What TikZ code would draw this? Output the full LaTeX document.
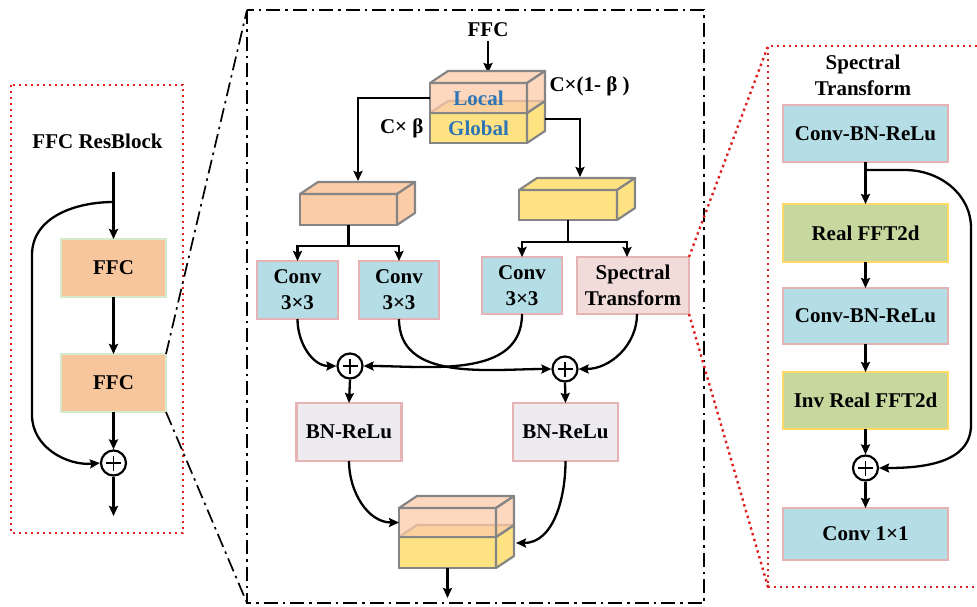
\documentclass[tikz,border=0pt]{standalone}
\usepackage{fontspec}
\setmainfont{Liberation Serif}
\usetikzlibrary{arrows.meta}

\definecolor{peach}{HTML}{F8C69C}
\definecolor{paleGreen}{HTML}{D6E9CC}
\definecolor{cubeOrange}{HTML}{FCCBA8}
\definecolor{cubeYellow}{HTML}{FFE382}
\definecolor{cubeEdge}{HTML}{858585}
\definecolor{convBlue}{HTML}{B5DDE6}
\definecolor{pinkEdge}{HTML}{E5B3B3}
\definecolor{stFill}{HTML}{F2DCDA}
\definecolor{bnFill}{HTML}{EDEAF0}
\definecolor{fftGreen}{HTML}{C6D89E}
\definecolor{fftEdge}{HTML}{FFD966}
\definecolor{labelBlue}{HTML}{2E75B6}
\definecolor{dotRed}{HTML}{E02020}

% front face node plus top and right faces of a box in oblique view
% #1 name, #2 x, #3 y (top-left of front), #4 width, #5 height, #6 colour, #7 fill opacity
\newcommand\drawcuboid[7]{%
  \node[cubeface, fill=#6, fill opacity=#7, minimum width=#4pt, minimum height=#5pt,
        anchor=north west] (#1) at (#2,#3) {};
  \filldraw[cubeline, fill=#6, fill opacity=#7]
    (#1.north west) -- ++(18,-12) -- ++(#4,0) -- (#1.north east) -- cycle;
  \filldraw[cubeline, fill=#6, fill opacity=#7]
    (#1.north east) -- ++(18,-12) -- ++(0,#5) -- (#1.south east) -- cycle;
}

\begin{document}
\begin{tikzpicture}[x=1pt,y=-1pt,
  txt/.style={font=\fontsize{21}{26}\selectfont\bfseries, text opacity=1},
  blk/.style={txt, draw, line width=2.2pt, inner sep=0pt, outer sep=0pt, align=center},
  ffcbox/.style={blk, fill=peach, draw=paleGreen, minimum width=105pt, minimum height=58pt},
  convbox/.style={blk, fill=convBlue, draw=pinkEdge},
  stbox/.style={blk, fill=stFill, draw=pinkEdge},
  bnbox/.style={blk, fill=bnFill, draw=pinkEdge, minimum width=105pt, minimum height=58pt},
  fftbox/.style={blk, fill=fftGreen, draw=fftEdge, minimum width=165pt},
  cubeface/.style={draw=cubeEdge, line width=2.2pt, inner sep=0pt, outer sep=0pt},
  cubeline/.style={draw=cubeEdge, line width=2.2pt, line join=round},
  wire/.style={line width=2.3pt},
  arr/.style={wire, -{Stealth[length=10pt, width=9pt, inset=1.5pt]}},
  adder/.style={circle, draw, line width=2.2pt, fill=white, minimum size=25pt, inner sep=0pt,
    path picture={\draw[line width=1.5pt]
      ([xshift=-7.5pt]path picture bounding box.center) -- ([xshift=7.5pt]path picture bounding box.center)
      ([yshift=-7.5pt]path picture bounding box.center) -- ([yshift=7.5pt]path picture bounding box.center);}},
  reddots/.style={dotRed, line width=2.4pt, dash pattern=on 2.4pt off 3.6pt},
  dashdot/.style={line width=2.2pt, dash pattern=on 14pt off 5pt on 2.5pt off 5pt},
]
\useasboundingbox (0,0) rectangle (977,606);

%% ---------------- FFC ResBlock ----------------
\draw[reddots] (11,85) rectangle (183,533);
\node[txt] (resTitle) at (97.5,141) {FFC ResBlock};
\node[ffcbox] (ffcA) at (113.5,268) {FFC};
\node[ffcbox] (ffcB) at (113.5,383) {FFC};
\node[adder] (addRes) at (113.5,463) {};
\coordinate (resIn) at (113.5,172);
\coordinate (resSplit) at (113.5,202);
\coordinate (resOut) at (113.5,516);
\draw[arr] (resIn) -- (ffcA.north);
\draw[arr] (ffcA.south) -- (ffcB.north);
\draw[arr] (ffcB.south) -- (addRes.north);
\draw[arr] (addRes.south) -- (resOut);
\draw[arr] (resSplit) to[out=180,in=90] (32,255) -- (32,415) to[out=-90,in=185] (addRes.west);

%% ---------------- FFC block (zoomed) ----------------
\coordinate (zoomTL) at (247,10);
\coordinate (zoomBL) at (247,603);
\draw[dashdot] (zoomTL) rectangle (704,603);
\draw[dashdot, line width=1.7pt] (ffcB.north east) -- (zoomTL);
\draw[dashdot, line width=1.7pt] (ffcB.south east) -- (zoomBL);

\node[txt] (ffcTitle) at (488,30) {FFC};
\coordinate (cubeIn) at (488,73);
\draw[arr] (ffcTitle.south) -- (cubeIn);

% input tensor split into local and global channels
\drawcuboid{glob}{430}{113}{97}{30}{cubeYellow}{1}
\drawcuboid{loc}{430}{83}{97}{30}{cubeOrange}{0.75}
\node[txt, text=labelBlue] (locText) at (loc.center) {Local};
\node[txt, text=labelBlue] (globText) at (glob.center) {Global};
\node[txt, anchor=west] (ratioL) at (546,86) {C×(1- β )};
\node[txt, anchor=east] (ratioG) at (427,128) {C× β};

% local and global branches
\drawcuboid{lcube}{300}{194}{97}{31}{cubeOrange}{1}
\drawcuboid{gcube}{519}{190}{98}{30}{cubeYellow}{1}
\coordinate (lcubeIn) at (358,181);
\coordinate (gcubeOut) at (545,119);
\coordinate (gcubeIn) at (580,177);
\draw[arr] (loc.west) -| (lcubeIn);
\draw[arr] (gcubeOut) -| (gcubeIn);

\node[convbox, minimum width=81pt, minimum height=58pt] (convA) at (297.5,290) {Conv\\3×3};
\node[convbox, minimum width=80pt, minimum height=58pt] (convB) at (399,290) {Conv\\3×3};
\node[convbox, minimum width=80pt, minimum height=57pt] (convC) at (522,285.5) {Conv\\3×3};
\node[stbox, minimum width=112pt, minimum height=57pt] (spec) at (633,285.5) {Spectral\\Transform};

\coordinate (lSplit) at (348.5,246);
\coordinate (gSplit) at (568,242);
\draw[wire] (lcube.south) -- (lSplit);
\draw[arr] (lSplit) -| (convA.north);
\draw[arr] (lSplit) -| (convB.north);
\draw[wire] (gcube.south) -- (gSplit);
\draw[arr] (gSplit) -| (convC.north);
\draw[arr] (gSplit) -| ([xshift=-6pt]spec.north);

\node[adder] (addL) at (350,366) {};
\node[adder] (addG) at (565,369) {};
\draw[arr] (convA.south) to[out=-90,in=180] (addL.west);
\draw[arr] (convC.south) to[out=-90,in=0] (addL.east);
\draw[arr] (convB.south) to[out=-90,in=180] (addG.west);
\draw[arr] ([xshift=4pt]spec.south) to[out=-90,in=0] (addG.east);

\node[bnbox] (bnL) at (349,432) {BN-ReLu};
\node[bnbox] (bnG) at (565.5,432) {BN-ReLu};
\draw[arr] (addL.south) -- (bnL.north);
\draw[arr] (addG.south) -- (bnG.north);

% output tensor
\drawcuboid{outG}{399}{537}{97}{31}{cubeYellow}{1}
\drawcuboid{outL}{399}{508}{97}{29}{cubeOrange}{0.75}
\coordinate (outGIn) at (516,543);
\coordinate (outEnd) at (447.5,598);
\draw[arr] (bnL.south) to[out=-90,in=180] (outL.west);
\draw[arr] (bnG.south) to[out=-90,in=0] (outGIn);
\draw[arr] (outG.south) -- (outEnd);

%% ---------------- Spectral Transform (zoomed) ----------------
\coordinate (stTL) at (768,46);
\coordinate (stBL) at (768,587);
\draw[reddots] (977,46) -- (stTL) -- (stBL) -- (977,587);
\draw[reddots] (spec.north east) -- (stTL);
\draw[reddots] (spec.south east) -- (stBL);

\node[txt, align=center] (stTitle) at (863,75.5) {Spectral\\Transform};
\node[convbox, minimum width=165pt, minimum height=57pt] (cbrA) at (865.5,133.5) {Conv-BN-ReLu};
\node[fftbox, minimum height=58pt] (fftA) at (865.5,233) {Real FFT2d};
\node[convbox, minimum width=165pt, minimum height=56pt] (cbrB) at (865.5,316) {Conv-BN-ReLu};
\node[fftbox, minimum height=57pt] (fftB) at (865.5,400.5) {Inv Real FFT2d};
\node[adder] (addS) at (865.5,468) {};
\node[convbox, minimum width=165pt, minimum height=52pt] (convOne) at (865.5,534) {Conv 1×1};

\coordinate (stSplit) at (865.5,170);
\draw[arr] (cbrA.south) -- (fftA.north);
\draw[arr] (fftA.south) -- (cbrB.north);
\draw[arr] (cbrB.south) -- (fftB.north);
\draw[arr] (fftB.south) -- (addS.north);
\draw[arr] (addS.south) -- (convOne.north);
\draw[arr] (stSplit) -- (905,170) to[out=0,in=90] (971,228) -- (971,425) to[out=-90,in=0] (addS.east);
\end{tikzpicture}
\end{document}
